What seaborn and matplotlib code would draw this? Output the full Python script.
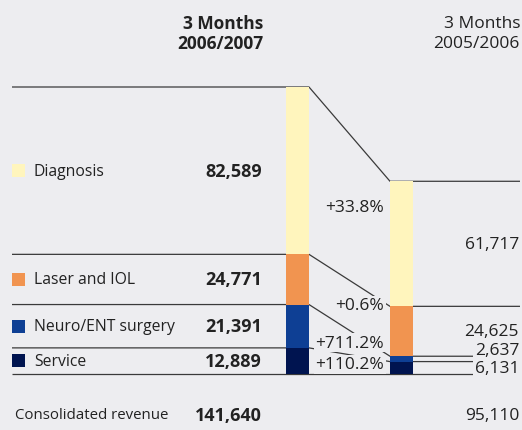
import numpy as np
import pandas as pd
import matplotlib.pyplot as plt
import seaborn as sns

# revenue by segment, EUR thousand
categories = ["Diagnosis", "Laser and IOL", "Neuro/ENT surgery", "Service"]
colors = ["#FFF5BD", "#F19450", "#0E3F94", "#001450"]
rev_new = [82589, 24771, 21391, 12889]   # 3 Months 2006/2007
rev_old = [61717, 24625, 2637, 6131]     # 3 Months 2005/2006
periods = ["2006/2007", "2005/2006"]
header = "3 Months"
total_label = "Consolidated revenue"

BG = "#EDEDF0"
INK = "#222222"
LINE = "#3a3a3a"

sns.set_theme(style="white")
plt.rcParams["font.family"] = ["Open Sans", "DejaVu Sans"]

W, H = 522, 431
BASE = 375                      # pixel row of the baseline (from top)
SCALE = 287 / sum(rev_new)      # pixels per unit of revenue
BW = 23 / 104                   # bar width in category units


def px_x(p):
    # pixel column -> category axis position
    return (p - 297.5) / 104


def px_y(p):
    # pixel row (from top) -> revenue axis
    return (BASE - p) / SCALE


def fmt(v):
    return f"{v:,}"


fig = plt.figure(figsize=(W / 100, H / 100), dpi=100, facecolor=BG)
ax = fig.add_axes([0, 0, 1, 1])
ax.set_facecolor(BG)

# top edge of every stacked segment (stack goes Service at bottom -> Diagnosis on top)
top_new = np.cumsum(rev_new[::-1])[::-1]
top_old = np.cumsum(rev_old[::-1])[::-1]

for i, cat in enumerate(categories):
    d = pd.DataFrame({"period": periods, "top": [top_new[i], top_old[i]]})
    sns.barplot(data=d, x="period", y="top", color=colors[i], width=BW,
                saturation=1, errorbar=None, linewidth=0, edgecolor="none",
                ax=ax, zorder=3)

# connector lines between the two columns
x_l, x_r = px_x(12), px_x(520)
for k in range(len(categories)):
    ax.plot([x_l, BW / 2, 1 - BW / 2, x_r],
            [top_new[k], top_new[k], top_old[k], top_old[k]],
            color=LINE, lw=0.9, zorder=1, solid_capstyle="butt")
ax.plot([x_l, x_r], [0, 0], color=LINE, lw=0.9, zorder=1, solid_capstyle="butt")

ax.set_xlim(px_x(0), px_x(W))
ax.set_ylim(px_y(H), px_y(0))
ax.axis("off")

fs = 12.5     # numbers and headers
fl = 11.3     # row labels

# column headers
ax.text(px_x(263), px_y(24), header, ha="right", va="center", fontsize=fs, fontweight="bold", color=INK)
ax.text(px_x(263), px_y(44), periods[0], ha="right", va="center", fontsize=fs, fontweight="bold", color=INK)
ax.text(px_x(520), px_y(24), header, ha="right", va="center", fontsize=fs, color=INK)
ax.text(px_x(520), px_y(44), periods[1], ha="right", va="center", fontsize=fs, color=INK)

# legend rows on the left, centred on each segment of the current-year bar
mid_new = top_new - np.array(rev_new) / 2
ax.scatter([px_x(18.5)] * 4, mid_new, marker="s", s=88, c=colors, linewidths=0, zorder=4)
for i, cat in enumerate(categories):
    ax.text(px_x(34), mid_new[i], cat, ha="left", va="center", fontsize=fl, color=INK)
    ax.text(px_x(262), mid_new[i], fmt(rev_new[i]), ha="right", va="center",
            fontsize=fs + 0.5, fontweight="bold", color=INK)

box = dict(facecolor=BG, edgecolor="none", pad=1.2)
gap = 18 / SCALE

# prior-year values, centred on segments and pushed apart where segments are thin
mid_old = top_old - np.array(rev_old) / 2
pos = list(mid_old)
for i in range(len(pos) - 2, -1, -1):
    pos[i] = max(pos[i], pos[i + 1] + gap)
for i in range(len(categories)):
    ax.text(px_x(519), pos[i], fmt(rev_old[i]), ha="right", va="center",
            fontsize=fs, color=INK, bbox=box, zorder=5)

# growth rates, in the band between the connector lines
upper = (top_new + top_old) / 2
lower = np.append(upper[1:], 0)
band = (upper + lower) / 2
ppos = list(band)
for i in range(len(ppos) - 2, -1, -1):
    ppos[i] = max(ppos[i], ppos[i + 1] + gap)
for i in range(len(categories)):
    g = (rev_new[i] / rev_old[i] - 1) * 100
    ax.text(px_x(384), ppos[i], f"+{g:.1f}%", ha="right", va="center",
            fontsize=fs, color=INK, bbox=box, zorder=5)

# totals row
ax.text(px_x(15), px_y(416), total_label, ha="left", va="center", fontsize=fl - 0.5, color=INK)
ax.text(px_x(262), px_y(416), fmt(sum(rev_new)), ha="right", va="center",
        fontsize=fs + 0.5, fontweight="bold", color=INK)
ax.text(px_x(519), px_y(416), fmt(sum(rev_old)), ha="right", va="center", fontsize=fs, color=INK)

fig.savefig("out.png", dpi=100, facecolor=BG)
